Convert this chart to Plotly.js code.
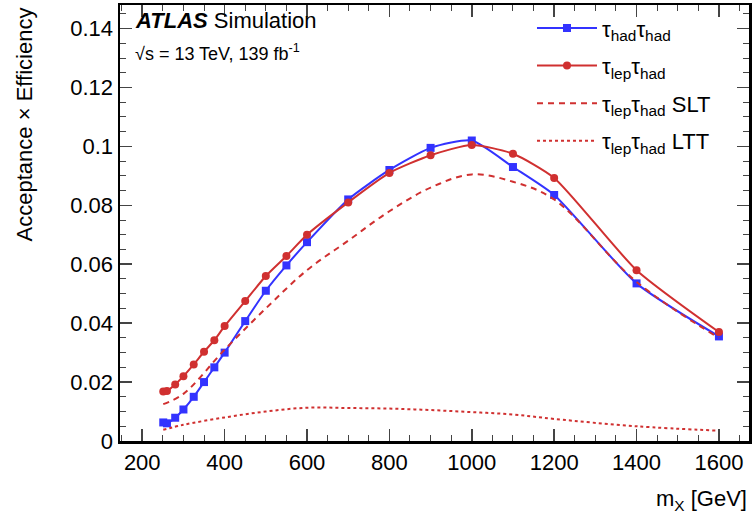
<!DOCTYPE html><html><head><script src="https://cdn.plot.ly/plotly-3.0.1.min.js"></script></head><body style="margin:0"><div id="c" style="width:753px;height:522px"></div><script>
const mass=[251,260,280,300,325,350,375,400,450,500,550,600,700,800,900,1000,1100,1200,1400,1600];
const hadhad=[0.0063,0.0060,0.0079,0.0107,0.0150,0.0200,0.0250,0.0300,0.0407,0.0510,0.0596,0.0675,0.0820,0.0920,0.0995,0.1020,0.0930,0.0835,0.0535,0.0355];
const lephad=[0.0168,0.0170,0.0192,0.0220,0.0260,0.0303,0.0342,0.0390,0.0475,0.0560,0.0628,0.0700,0.0810,0.0910,0.0970,0.1005,0.0975,0.0893,0.0580,0.0370];
const smass=[251,300,400,500,600,700,800,900,1000,1100,1200,1400,1600];
const slt=[0.0125,0.0160,0.0310,0.0450,0.0580,0.0680,0.0780,0.0860,0.0905,0.0880,0.0820,0.0540,0.0350];
const ltt=[0.0038,0.0055,0.0080,0.0100,0.0113,0.0112,0.0110,0.0105,0.0098,0.0090,0.0075,0.0050,0.0035];
const F="Liberation Sans, Arial, sans-serif";
const blue='#3333ff', red='#d03030';
const data=[
{x:mass,y:hadhad,name:'τ<sub>had</sub>τ<sub>had</sub>',legendgroup:'a',mode:'lines+markers',line:{color:blue,width:2,shape:'spline',smoothing:0.6},marker:{symbol:'square',size:8,color:blue}},
{x:mass,y:lephad,name:'τ<sub>lep</sub>τ<sub>had</sub>',legendgroup:'b',mode:'lines+markers',line:{color:red,width:2,shape:'spline',smoothing:0.6},marker:{symbol:'circle',size:8,color:red}},
{x:smass,y:slt,name:'τ<sub>lep</sub>τ<sub>had</sub> SLT',legendgroup:'c',mode:'lines',line:{color:red,width:2,dash:'6px,5px',shape:'spline'}},
{x:smass,y:ltt,name:'τ<sub>lep</sub>τ<sub>had</sub> LTT',legendgroup:'d',mode:'lines',line:{color:red,width:2,dash:'3px,3px',shape:'spline'}}
];
const ax={showline:true,mirror:'ticks',linecolor:'black',linewidth:2.5,ticks:'inside',ticklen:12,tickwidth:1.5,showgrid:false,zeroline:false,tickfont:{size:22,family:F,color:'black'}};
const layout={width:753,height:522,margin:{l:120,r:4,t:5,b:81},plot_bgcolor:'white',paper_bgcolor:'white',font:{family:F,color:'black'},
xaxis:Object.assign({},ax,{range:[146,1673],dtick:200,minor:{ticks:'inside',ticklen:6,tickwidth:1,dtick:50}}),
yaxis:Object.assign({},ax,{range:[0,0.148],dtick:0.02,tickformat:'~g',minor:{ticks:'inside',ticklen:6,tickwidth:1,dtick:0.005}}),
legend:{x:0.655,y:0.995,xanchor:'left',yanchor:'top',font:{size:22},bgcolor:'rgba(0,0,0,0)',tracegroupgap:6,itemwidth:60},
showlegend:true,
annotations:[
{xref:'paper',yref:'paper',x:0.02,y:0.965,xanchor:'left',yanchor:'middle',showarrow:false,text:'<b><i>ATLAS</i></b> Simulation',font:{size:22}},
{xref:'paper',yref:'paper',x:0.02,y:0.89,xanchor:'left',yanchor:'middle',showarrow:false,text:'√s = 13 TeV, 139 fb<sup>-1</sup>',font:{size:18}},
{xref:'paper',yref:'paper',x:1,y:-0.135,xanchor:'right',yanchor:'middle',showarrow:false,text:'m<sub>X</sub> [GeV]',font:{size:22}},
{xref:'paper',yref:'paper',x:-0.152,y:1,xanchor:'center',yanchor:'top',textangle:-90,showarrow:false,text:'Acceptance × Efficiency',font:{size:22}}
]};
Plotly.newPlot('c',data,layout,{staticPlot:true});
</script></body></html>
